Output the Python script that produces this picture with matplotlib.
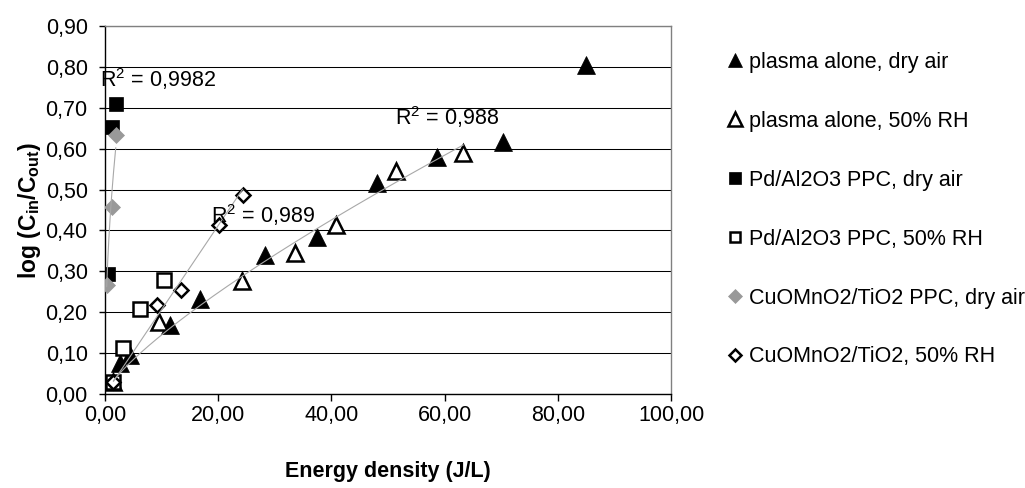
import numpy as np
import matplotlib
matplotlib.use("Agg")
import matplotlib.pyplot as plt
from matplotlib.ticker import FuncFormatter, MultipleLocator

# --- data -------------------------------------------------------------
plasma_dry_x = [2.6, 4.4, 11.5, 16.8, 28.2, 37.5, 48.1, 58.7, 70.3, 85.0]
plasma_dry_y = [0.075, 0.095, 0.168, 0.232, 0.340, 0.385, 0.515, 0.580, 0.617, 0.804]

plasma_rh_x = [1.5, 9.6, 24.2, 33.5, 40.8, 51.5, 63.3]
plasma_rh_y = [0.030, 0.177, 0.276, 0.344, 0.413, 0.546, 0.590]

pd_dry_x = [0.6, 1.2, 1.9]
pd_dry_y = [0.293, 0.653, 0.710]

pd_rh_x = [1.5, 3.2, 6.2, 10.4]
pd_rh_y = [0.030, 0.113, 0.207, 0.279]

cuo_dry_x = [0.3, 1.2, 1.9]
cuo_dry_y = [0.267, 0.458, 0.633]

cuo_rh_x = [1.5, 9.1, 13.4, 20.1, 24.3]
cuo_rh_y = [0.030, 0.218, 0.254, 0.413, 0.487]

labels = ["plasma alone, dry air", "plasma alone, 50% RH",
          "Pd/Al2O3 PPC, dry air", "Pd/Al2O3 PPC, 50% RH",
          "CuOMnO2/TiO2 PPC, dry air", "CuOMnO2/TiO2, 50% RH"]
r2_texts = ["0,9982", "0,989", "0,988"]

# --- style ------------------------------------------------------------
FS = 15.5
plt.rcParams["font.family"] = ["Liberation Sans", "DejaVu Sans"]
plt.rcParams["mathtext.fontset"] = "custom"
plt.rcParams["mathtext.rm"] = "Liberation Sans"
plt.rcParams["mathtext.it"] = "Liberation Sans:italic"
plt.rcParams["mathtext.bf"] = "Liberation Sans:bold"
plt.rcParams["font.size"] = FS

fig = plt.figure(figsize=(10.25, 4.88), dpi=100)
ax = fig.add_axes([105 / 1025, 94 / 488, 566 / 1025, 368 / 488])

GREY = "#999999"
TREND = "#a8a8a8"
MEW = 1.8

series = [
    (plasma_dry_x, plasma_dry_y, dict(marker="^", ms=13, mfc="black", mec="black", mew=0.5)),
    (plasma_rh_x, plasma_rh_y, dict(marker="^", ms=12, mfc="white", mec="black", mew=MEW)),
    (pd_dry_x, pd_dry_y, dict(marker="s", ms=10.5, mfc="black", mec="black", mew=0.5)),
    (pd_rh_x, pd_rh_y, dict(marker="s", ms=9.5, mfc="white", mec="black", mew=MEW)),
    (cuo_dry_x, cuo_dry_y, dict(marker="D", ms=8.5, mfc=GREY, mec=GREY, mew=0.5)),
    (cuo_rh_x, cuo_rh_y, dict(marker="D", ms=7.5, mfc="white", mec="black", mew=MEW)),
]

handles = []
for (xs, ys, st), lab in zip(series, labels):
    h, = ax.plot(xs, ys, linestyle="none", label=lab, zorder=3, **st)
    handles.append(h)


def power_trend(xs, ys):
    """Least-squares power-law trendline y = a * x**b over the series range."""
    lx, ly = np.log(xs), np.log(ys)
    b, ln_a = np.polyfit(lx, ly, 1)
    xx = np.linspace(min(xs), max(xs), 200)
    return xx, np.exp(ln_a) * xx ** b


for xs, ys in [(cuo_dry_x, cuo_dry_y), (cuo_rh_x, cuo_rh_y), (plasma_rh_x, plasma_rh_y)]:
    tx, ty = power_trend(xs, ys)
    ax.plot(tx, ty, color=TREND, lw=0.8, zorder=4)

# R² labels of the trendlines
ax.text(-0.9, 0.750, r"R$^2$ = " + r2_texts[0], ha="left", va="baseline", fontsize=FS, zorder=5)
ax.text(18.7, 0.417, r"R$^2$ = " + r2_texts[1], ha="left", va="baseline", fontsize=FS, zorder=5)
ax.text(51.3, 0.658, r"R$^2$ = " + r2_texts[2], ha="left", va="baseline", fontsize=FS, zorder=5)

# --- axes -------------------------------------------------------------
ax.set_xlim(0, 100)
ax.set_ylim(0, 0.9)
ax.xaxis.set_major_locator(MultipleLocator(20))
ax.yaxis.set_major_locator(MultipleLocator(0.1))
comma = FuncFormatter(lambda v, p: f"{v:.2f}".replace(".", ","))
ax.xaxis.set_major_formatter(comma)
ax.yaxis.set_major_formatter(comma)

ax.grid(axis="y", color="black", lw=0.75, zorder=1)
ax.set_axisbelow(True)
ax.tick_params(axis="x", direction="out", length=5, width=1, pad=3, labelsize=FS)
ax.tick_params(axis="y", direction="out", length=4.5, width=1, pad=8, labelsize=FS)

for side in ("left", "bottom"):
    ax.spines[side].set_color("black")
    ax.spines[side].set_linewidth(1)
for side in ("top", "right"):
    ax.spines[side].set_color("#808080")
    ax.spines[side].set_linewidth(1)

ax.set_xlabel("Energy density (J/L)", fontsize=FS, fontweight="bold", labelpad=25)
ax.set_ylabel(r"$\mathbf{log\ (C_{in}/C_{out})}$", fontsize=16.5, labelpad=2)

fig.legend(handles=handles, loc="upper left", bbox_to_anchor=(726 / 1025, 1 - 52 / 488),
           frameon=False, fontsize=FS, markerscale=0.8, handlelength=0.8,
           handletextpad=0.25, labelspacing=1.76, borderpad=0, borderaxespad=0)

fig.savefig("out.png", dpi=100)
